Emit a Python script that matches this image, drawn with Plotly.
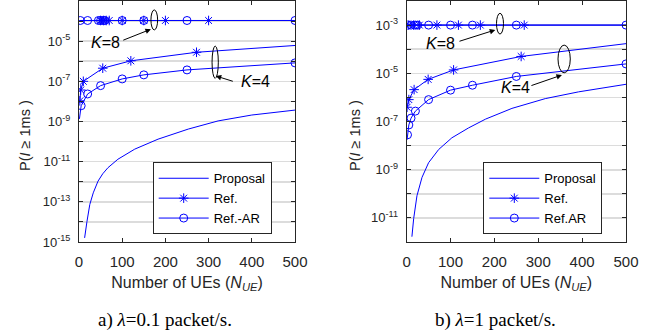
import plotly.graph_objects as go

# ---------------- data ----------------
# panel a) lambda = 0.1 packet/s
a_prop_N = [13, 15, 18.5, 25, 33, 44, 55, 67, 90, 129, 183, 253, 322, 400, 500]
a_prop_P = [1.6e-15, 4.0e-15, 1.07e-14, 7.4e-14, 2.8e-13, 1.07e-12, 2.5e-12, 5.0e-12,
            1.32e-11, 4.2e-11, 1.32e-10, 4.2e-10, 1.07e-9, 2.1e-9, 3.7e-9]

a_ref4_N = [2, 4, 10, 55, 120, 272, 500]
a_ref4_P = [1.07e-8, 3.7e-8, 1.0e-7, 4.5e-7, 1.05e-6, 2.8e-6, 6.1e-6]
a_ref4_mark = [1, 1, 1, 1, 1, 1, 0]

a_ar4_N = [1, 5, 20, 50, 100, 150, 250, 500]
a_ar4_P = [1.35e-9, 6.1e-9, 2.35e-8, 6.1e-8, 1.32e-7, 2.1e-7, 3.7e-7, 8.3e-7]
a_ar4_mark = [0, 1, 1, 1, 1, 1, 1, 1]

a_ref8_N = [1, 50, 57, 63, 70, 100, 150, 200, 300, 500]
a_ref8_P = [1.07e-4, 1.07e-4, 1.07e-4, 1.07e-4, 1.07e-4, 1.07e-4, 1.07e-4, 1.07e-4, 1.07e-4, 1.07e-4]
a_ref8_mark = [0, 1, 1, 1, 1, 1, 1, 1, 1, 0]

a_ar8_N = [1, 3, 20, 45, 50, 55, 60, 100, 150, 250, 500]
a_ar8_P = [1.07e-4, 1.07e-4, 1.07e-4, 1.07e-4, 1.07e-4, 1.07e-4, 1.07e-4, 1.07e-4, 1.07e-4, 1.07e-4, 1.07e-4]
a_ar8_mark = [0, 1, 1, 1, 1, 1, 1, 1, 1, 1, 1]

# panel b) lambda = 1 packet/s
b_prop_N = [12, 16, 23.5, 35, 50, 73, 103, 141, 180, 240, 316, 392, 500]
b_prop_P = [1.66e-12, 9.3e-12, 8.3e-11, 4.8e-10, 1.95e-9, 6.9e-9, 2.1e-8, 5.4e-8,
            1.26e-7, 3.5e-7, 8.9e-7, 1.7e-6, 3.5e-6]

b_ref4_N = [1, 5, 17, 49, 107, 261, 500]
b_ref4_P = [3.9e-7, 8.1e-7, 2.1e-6, 5.6e-6, 1.38e-5, 5.0e-5, 1.7e-4]
b_ref4_mark = [1, 1, 1, 1, 1, 1, 0]

b_ar4_N = [1, 2, 5, 10, 20, 50, 100, 150, 250, 500]
b_ar4_P = [1.78e-8, 2.8e-8, 7.2e-8, 1.38e-7, 2.7e-7, 8.1e-7, 2.0e-6, 3.2e-6, 7.4e-6, 2.45e-5]
b_ar4_mark = [0, 1, 1, 1, 1, 1, 1, 1, 1, 1]

b_ref8_N = [1, 5, 16, 29, 69, 118, 168, 268, 500]
b_ref8_P = [1e-3, 1e-3, 1e-3, 1e-3, 1e-3, 1e-3, 1e-3, 1e-3, 1e-3]
b_ref8_mark = [0, 1, 1, 1, 1, 1, 1, 1, 0]

b_ar8_N = [1, 2, 10, 20, 25, 50, 100, 150, 250, 500]
b_ar8_P = [1e-3, 1e-3, 1e-3, 1e-3, 1e-3, 1e-3, 1e-3, 1e-3, 1e-3, 1e-3]
b_ar8_mark = [0, 1, 1, 1, 1, 1, 1, 1, 1, 1]

x_ticks = [0, 100, 200, 300, 400, 500]
a_exps = list(range(-15, -2))
b_exps = list(range(-12, -1))
a_labeled = [-15, -13, -11, -9, -7, -5]
b_labeled = [-11, -9, -7, -5, -3]

legend_names_a = ["Proposal", "Ref.", "Ref.-AR"]
legend_names_b = ["Proposal", "Ref.", "Ref.AR"]
captions = ["a) <i>λ</i>=0.1 packet/s.", "b) <i>λ</i>=1 packet/s."]
y_title = "P(<i>I</i> ≥ 1ms )"
x_title = "Number of UEs (<i>N</i><sub><i>UE</i></sub>)"

# ---------------- styling ----------------
BLUE = "rgb(0,0,255)"
AXC = "#262626"
GRID = "#dcdcdc"
SANS = "Liberation Sans, Arial, sans-serif"
SERIF = "Liberation Serif, Times New Roman, serif"

fig = go.Figure()


def add_series(x, y, marks, symbol, xa, ya, name=None, legend=None):
    kw = dict(
        x=x, y=y, xaxis=xa, yaxis=ya,
        line=dict(color=BLUE, width=1),
        showlegend=name is not None,
        name=name or "",
        hoverinfo="skip",
    )
    if legend:
        kw["legend"] = legend
    if symbol is None:
        kw["mode"] = "lines"
    else:
        kw["mode"] = "lines+markers"
        kw["marker"] = dict(symbol=symbol, size=8, color=BLUE,
                            line=dict(width=1, color=BLUE))
        kw["selectedpoints"] = [i for i, m in enumerate(marks) if m]
        kw["selected"] = dict(marker=dict(opacity=1))
        kw["unselected"] = dict(marker=dict(opacity=0))
    fig.add_trace(go.Scatter(**kw))


# panel a
add_series(a_prop_N, a_prop_P, None, None, "x", "y", legend_names_a[0], "legend")
add_series(a_ref4_N, a_ref4_P, a_ref4_mark, "asterisk-open", "x", "y", legend_names_a[1], "legend")
add_series(a_ar4_N, a_ar4_P, a_ar4_mark, "circle-open", "x", "y", legend_names_a[2], "legend")
add_series(a_ref8_N, a_ref8_P, a_ref8_mark, "asterisk-open", "x", "y")
add_series(a_ar8_N, a_ar8_P, a_ar8_mark, "circle-open", "x", "y")

# panel b
add_series(b_prop_N, b_prop_P, None, None, "x2", "y2", legend_names_b[0], "legend2")
add_series(b_ref4_N, b_ref4_P, b_ref4_mark, "asterisk-open", "x2", "y2", legend_names_b[1], "legend2")
add_series(b_ar4_N, b_ar4_P, b_ar4_mark, "circle-open", "x2", "y2", legend_names_b[2], "legend2")
add_series(b_ref8_N, b_ref8_P, b_ref8_mark, "asterisk-open", "x2", "y2")
add_series(b_ar8_N, b_ar8_P, b_ar8_mark, "circle-open", "x2", "y2")


def yaxis_ticks(exps, labeled):
    return dict(
        range=[exps[0], exps[-1]],
        tickvals=[10.0 ** e for e in labeled],
        ticktext=[f"10<sup>{e}</sup>" for e in labeled],
        minor=dict(tickvals=[10.0 ** e for e in exps if e not in labeled],
                   ticks="inside", ticklen=4, tickcolor=AXC, tickwidth=1,
                   showgrid=True, gridcolor=GRID, gridwidth=1.6),
    )


common_x = dict(
    range=[0, 500], tickvals=x_ticks, ticktext=[str(v) for v in x_ticks],
    showline=True, linecolor=AXC, linewidth=1, mirror="ticks",
    ticks="inside", ticklen=4, tickcolor=AXC, tickwidth=1,
    showgrid=False, zeroline=False, automargin=False,
    tickfont=dict(family=SANS, size=15, color=AXC),
    ticklabelstandoff=6,
    title=dict(text=x_title, font=dict(family=SANS, size=16, color=AXC), standoff=7),
)
common_y = dict(
    type="log",
    showline=True, linecolor=AXC, linewidth=1, mirror="ticks",
    ticks="inside", ticklen=4, tickcolor=AXC, tickwidth=1,
    showgrid=True, gridcolor=GRID, gridwidth=1.6, zeroline=False, automargin=False,
    tickfont=dict(family=SANS, size=13, color=AXC),
    ticklabelstandoff=5,
)

L, R, T, B = 79, 39, 1, 94
W, H = 665, 336
pw = W - L - R
ph = H - T - B
d_a = [0, (295 - L) / pw]
d_b = [(406.65 - L) / pw, 1]

legend_common = dict(xanchor="left", yanchor="top", bgcolor="white",
                     bordercolor=AXC, borderwidth=1, itemwidth=50, tracegroupgap=0,
                     font=dict(family=SANS, size=13, color="black"))

fig.update_layout(
    width=W, height=H, autosize=False,
    margin=dict(l=L, r=R, t=T, b=B),
    paper_bgcolor="white", plot_bgcolor="white",
    xaxis=dict(common_x, domain=d_a, anchor="y"),
    yaxis=dict(common_y, domain=[0, 1], anchor="x", **yaxis_ticks(a_exps, a_labeled)),
    xaxis2=dict(common_x, domain=d_b, anchor="y2"),
    yaxis2=dict(common_y, domain=[0, 1], anchor="x2", **yaxis_ticks(b_exps, b_labeled)),
    legend=dict(legend_common, x=(152.7 - L) / pw, y=((H - B) - 162.3) / ph),
    legend2=dict(legend_common, x=(483.3 - L) / pw, y=((H - B) - 162.3) / ph),
)

# ---------------- annotations (ellipses, arrows, K labels, titles, captions) ----------------
shapes = []
annots = []


def ellipse(xr, yr, x0, x1, y0, y1):
    shapes.append(dict(type="circle", xref=xr, yref=yr, x0=x0, x1=x1, y0=y0, y1=y1,
                       line=dict(color="black", width=1), fillcolor="rgba(0,0,0,0)"))


def arrow(xr, yr, tx, ty, hx, hy):
    annots.append(dict(xref=xr, yref=yr, axref=xr, ayref=yr, x=hx, y=hy, ax=tx, ay=ty,
                       text="", showarrow=True, arrowhead=2, arrowsize=1.1,
                       arrowwidth=1, arrowcolor="black"))


def label(xr, yr, x, y, txt):
    annots.append(dict(xref=xr, yref=yr, x=x, y=y, text=txt, showarrow=False,
                       xanchor="center", yanchor="middle",
                       font=dict(family=SANS, size=16, color="black")))


ellipse("x domain", "y domain", 0.333, 0.364, 0.880, 0.963)
label("x domain", "y domain", 0.124, 0.827, "<i>K</i>=8")
arrow("x domain", "y domain", 0.198, 0.835, 0.333, 0.883)
ellipse("x domain", "y domain", 0.616, 0.645, 0.679, 0.813)
label("x domain", "y domain", 0.815, 0.665, "<i>K</i>=4")
arrow("x domain", "y domain", 0.719, 0.665, 0.633, 0.689)

ellipse("x2 domain", "y2 domain", 0.4096, 0.4415, 0.863, 0.949)
label("x2 domain", "y2 domain", 0.1534, 0.8245, "<i>K</i>=8")
arrow("x2 domain", "y2 domain", 0.234, 0.831, 0.404, 0.880)
ellipse("x2 domain", "y2 domain", 0.690, 0.746, 0.702, 0.817)
label("x2 domain", "y2 domain", 0.494, 0.641, "<i>K</i>=4")
arrow("x2 domain", "y2 domain", 0.562, 0.647, 0.708, 0.693)

# vertical y-axis titles
for cx in [25, 355]:
    annots.append(dict(xref="paper", yref="paper", x=(cx - L) / pw, y=((H - B) - 136) / ph,
                       text=y_title, textangle=-90, showarrow=False,
                       xanchor="center", yanchor="middle",
                       font=dict(family=SANS, size=14.5, color=AXC)))

for cx, txt in zip([164.5, 495], captions):
    annots.append(dict(xref="paper", yref="paper", x=(cx - L) / pw,
                       y=((H - B) - 320) / ph, text=txt, showarrow=False,
                       xanchor="center", yanchor="middle",
                       font=dict(family=SERIF, size=19, color="black")))

fig.update_layout(shapes=shapes, annotations=annots)
fig.write_html("out.html", config={"displayModeBar": False, "staticPlot": True},
               post_script="document.body.style.margin='0';")
